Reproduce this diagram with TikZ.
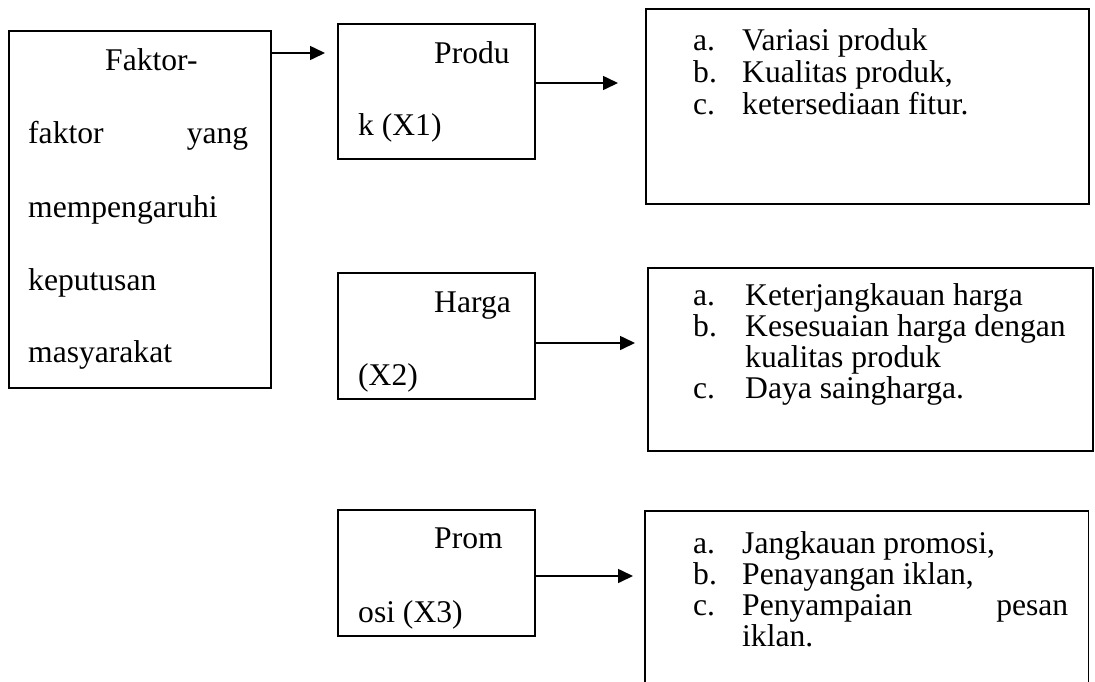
\documentclass[tikz,border=0pt]{standalone}
\usepackage{fontspec}
\setmainfont{Liberation Serif}
\usetikzlibrary{arrows.meta}
\begin{document}
\begin{tikzpicture}[x=1pt,y=1pt,
  box/.style={draw=black,line width=1.5pt,rectangle,inner sep=0pt,anchor=north west},
  txt/.style={anchor=base west,inner sep=0pt,font=\fontsize{31.6pt}{32pt}\selectfont},
  conn/.style={line width=1.6pt,-{Triangle[length=15pt,width=14pt]}}]
\useasboundingbox (0,0) rectangle (1095,-681);
% left box
\node[box,minimum width=262pt,minimum height=357pt] (L) at (8,-30) {};
\node[txt] (l1) at (105,-70) {Faktor-};
\node[txt] (l2) at (28,-143) {\makebox[220pt][s]{faktor\hfill yang}};
\node[txt] (l3) at (28,-217) {mempengaruhi};
\node[txt] (l4) at (28,-290) {keputusan};
\node[txt] (l5) at (28,-362) {masyarakat};
% variable boxes
\node[box,minimum width=197pt,minimum height=135pt] (P) at (337,-23) {};
\node[txt] (p1) at (434,-63) {Produ};
\node[txt] (p2) at (358,-135) {k (X1)};
\node[box,minimum width=197pt,minimum height=126pt] (H) at (337,-272) {};
\node[txt] (h1) at (434,-312) {Harga};
\node[txt] (h2) at (358,-385) {(X2)};
\node[box,minimum width=197pt,minimum height=126pt] (M) at (337,-509) {};
\node[txt] (m1) at (434,-548) {Prom};
\node[txt] (m2) at (358,-622) {osi (X3)};
% indicator boxes
\node[box,minimum width=443pt,minimum height=195pt] (B1) at (645,-8) {};
\node[txt] (b1a) at (693,-50) {a.};
\node[txt] (b1at) at (742,-50) {Variasi produk};
\node[txt] (b1b) at (693,-82) {b.};
\node[txt] (b1bt) at (742,-82) {Kualitas produk,};
\node[txt] (b1c) at (693,-114) {c.};
\node[txt] (b1ct) at (742,-114) {ketersediaan fitur.};
\node[box,minimum width=445pt,minimum height=183pt] (B2) at (647,-267) {};
\node[txt] (b2a) at (693,-305) {a.};
\node[txt] (b2at) at (745,-305) {Keterjangkauan harga};
\node[txt] (b2b) at (693,-336) {b.};
\node[txt] (b2bt) at (745,-336) {Kesesuaian harga dengan};
\node[txt] (b2bt2) at (745,-367) {kualitas produk};
\node[txt] (b2c) at (693,-398) {c.};
\node[txt] (b2ct) at (745,-398) {Daya saingharga.};
\node[box,draw=none,minimum width=442pt,minimum height=170pt] (B3) at (645,-511) {};
\draw[line width=1.5pt] (B3.south west) -- (B3.north west) -- (B3.north east) -- (B3.south east);
\node[txt] (b3a) at (693,-553) {a.};
\node[txt] (b3at) at (742,-553) {Jangkauan promosi,};
\node[txt] (b3b) at (693,-584) {b.};
\node[txt] (b3bt) at (742,-584) {Penayangan iklan,};
\node[txt] (b3c) at (693,-615) {c.};
\node[txt] (b3ct) at (742,-615) {\makebox[326pt][s]{Penyampaian\hfill pesan}};
\node[txt] (b3ct2) at (742,-646) {iklan.};
% connectors
\coordinate (e0) at (325,-53);
\coordinate (e1) at (618,-83);
\coordinate (e2) at (635,-343);
\coordinate (e3) at (633,-576);
\draw[conn] (L.east |- e0) -- (e0);
\draw[conn] (P.east |- e1) -- (e1);
\draw[conn] (H.east |- e2) -- (e2);
\draw[conn] (M.east |- e3) -- (e3);
\end{tikzpicture}
\end{document}
